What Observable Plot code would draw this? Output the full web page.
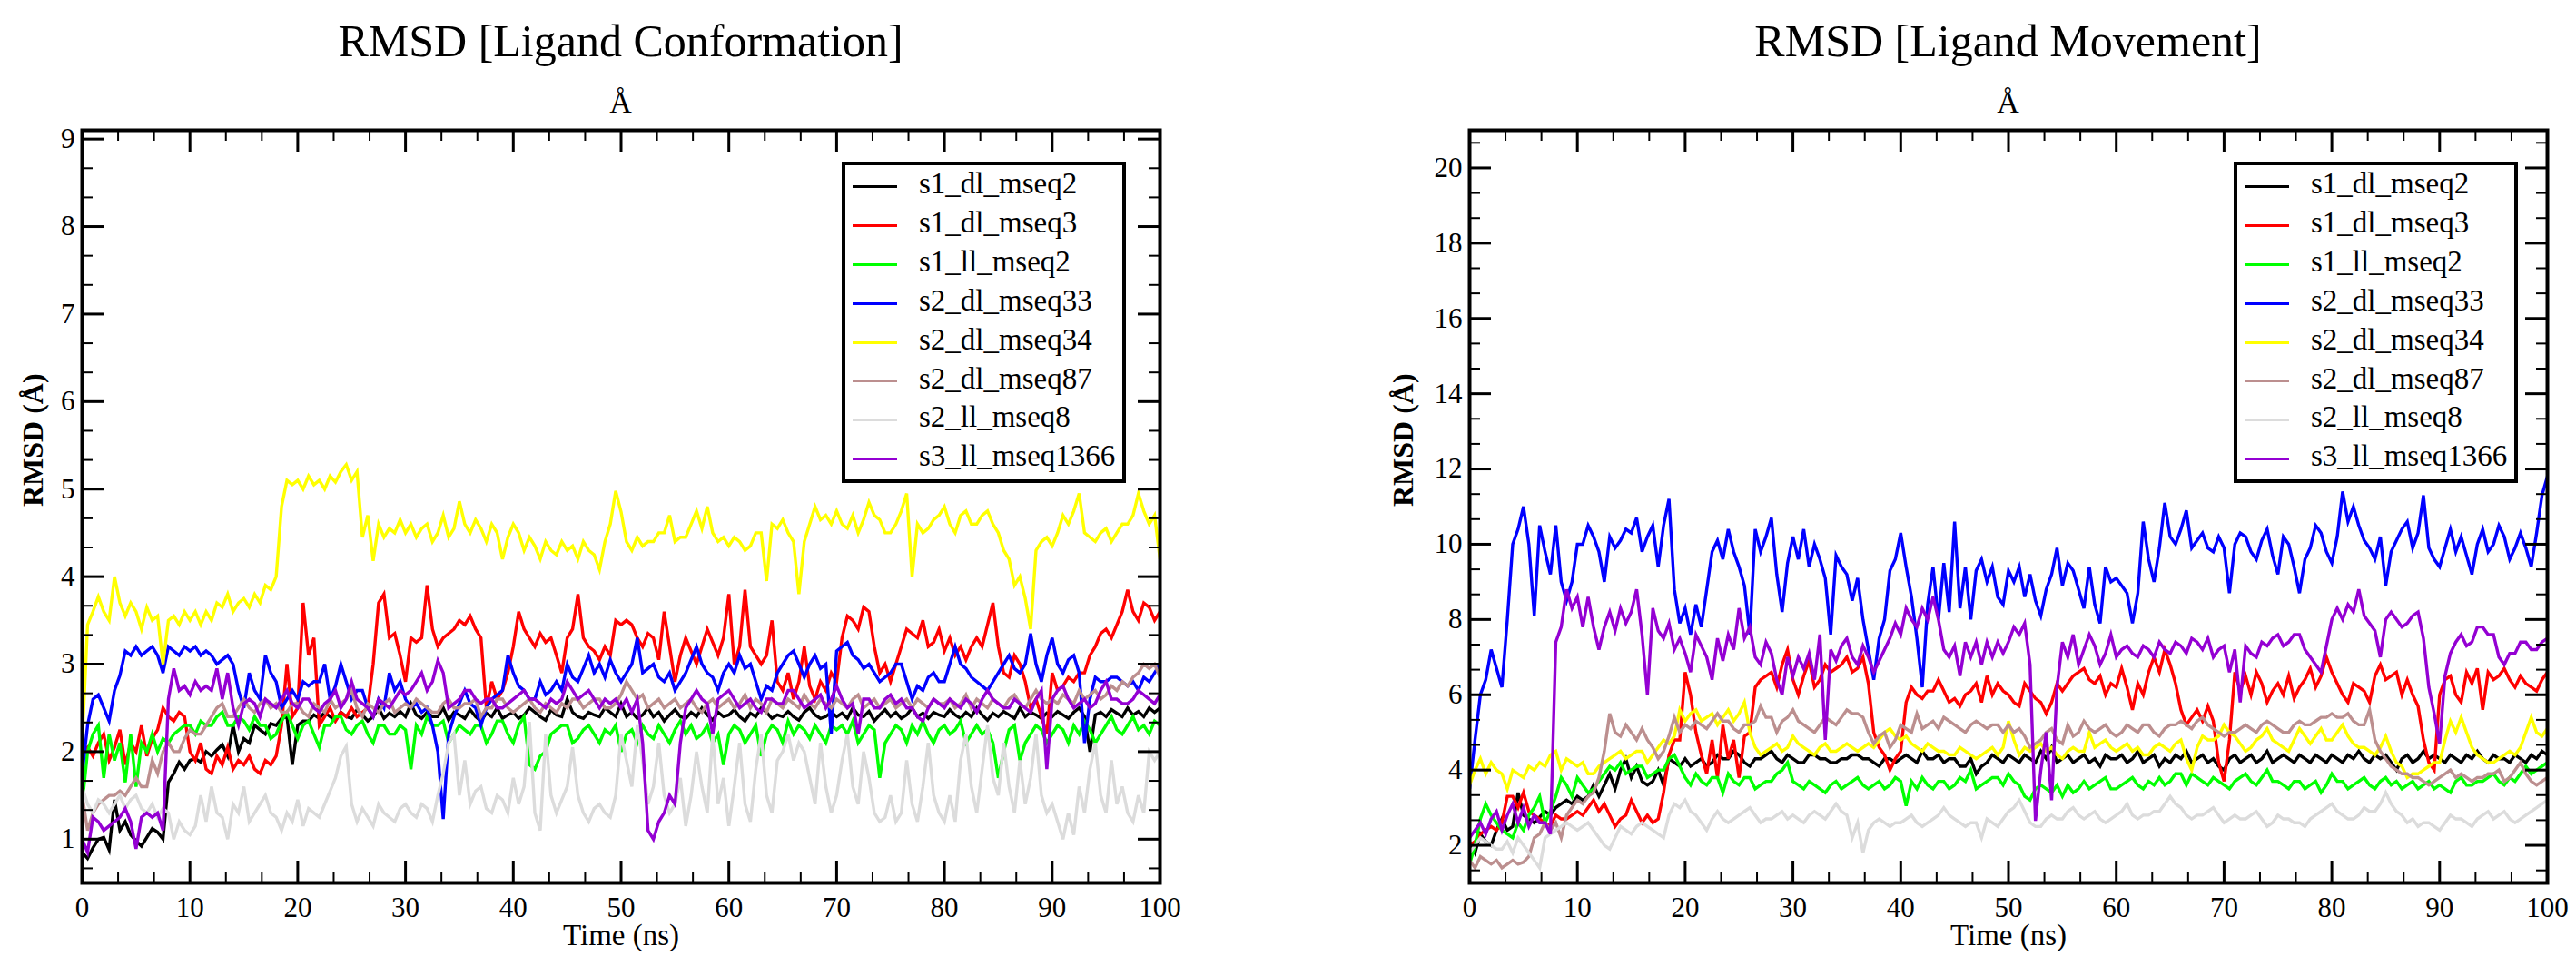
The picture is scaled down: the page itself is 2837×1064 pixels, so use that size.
<!DOCTYPE html>
<html>
<head>
<meta charset="utf-8">
<script src="https://cdn.jsdelivr.net/npm/d3@7"></script>
<script src="https://cdn.jsdelivr.net/npm/@observablehq/plot@0.6"></script>
<style>
  body { margin: 0; background: #fff; width: 2837px; height: 1064px; position: relative; overflow: hidden; font-family: "Liberation Serif", "Times New Roman", serif; color: #000; }
  .panel { position: absolute; top: 0; height: 1064px; }
  .chart { position: absolute; top: 130px; left: 0; }
  .title { position: absolute; top: 20px; font-size: 50px; line-height: 50px; text-align: center; white-space: nowrap; }
  .subtitle { position: absolute; top: 96px; font-size: 34px; line-height: 34px; text-align: center; }
  .legend { position: absolute; top: 178px; width: 313px; height: 354px; box-sizing: border-box; border: 4px solid #000; background: #fff; }
  .legend .row { position: absolute; left: 8px; height: 42px; line-height: 42px; font-size: 33px; white-space: nowrap; }
  .legend .swatch { display: inline-block; width: 49px; height: 3px; vertical-align: middle; margin-right: 24px; }
</style>
</head>
<body>
<div class="panel" id="panel1" style="left:0px;width:1418px">
  <div class="title" style="left:90px;width:1187px">RMSD [Ligand Conformation]</div>
  <div class="subtitle" style="left:90px;width:1187px">Å</div>
  <div class="chart" id="chart1"></div>
  <div class="legend" id="legend1" style="left:927px"></div>
</div>
<div class="panel" id="panel2" style="left:1418px;width:1419px">
  <div class="title" style="left:200px;width:1187px">RMSD [Ligand Movement]</div>
  <div class="subtitle" style="left:200px;width:1187px">Å</div>
  <div class="chart" id="chart2"></div>
  <div class="legend" id="legend2" style="left:1042px"></div>
</div>
<script>
// sets, in xmgrace drawing order (violet is drawn last, on top)
const setNames = ["s1_dl_mseq2", "s1_dl_mseq3", "s1_ll_mseq2", "s2_dl_mseq33", "s2_dl_mseq34", "s2_dl_mseq87", "s2_ll_mseq8", "s3_ll_mseq1366"]
const setColors = ["#000000", "#ff0000", "#00ff00", "#0000ff", "#ffff00", "#bc8f8f", "#dcdcdc", "#9400d3"]

const serif = '"Liberation Serif", "Times New Roman", serif'

// every series runs 0 .. 100 ns, one value every 0.5 ns
const timeEnd = 100

// ---------- RMSD [Ligand Conformation] ----------
const conf_s1_dl_mseq2 = [
  0.85,0.78,0.9,1.0,1.02,0.88,1.45,1.1,1.2,1.05,0.98,0.92,1.02,1.12,1.08,1.0,1.65,1.75,1.88,1.8,
  1.9,1.92,1.88,2.0,1.95,2.02,2.08,1.95,2.3,2.0,2.15,2.1,2.3,2.25,2.2,2.32,2.3,2.38,2.4,1.85,
  2.3,2.35,2.35,2.42,2.38,2.45,2.4,2.36,2.45,2.4,2.38,2.48,2.42,2.35,2.4,2.5,2.38,2.44,2.4,2.46,
  2.4,2.55,2.42,2.38,2.45,2.4,2.4,2.5,2.36,2.45,2.42,2.38,2.48,2.4,2.35,2.44,2.4,2.5,2.38,2.42,
  2.45,2.38,2.42,2.5,2.45,2.4,2.36,2.48,2.42,2.4,2.6,2.45,2.4,2.38,2.45,2.42,2.4,2.5,2.45,2.4,
  2.55,2.4,2.45,2.38,2.42,2.5,2.4,2.45,2.35,2.42,2.48,2.4,2.38,2.45,2.4,2.5,2.42,2.36,2.45,2.4,
  2.42,2.48,2.4,2.35,2.44,2.4,2.5,2.45,2.38,2.42,2.4,2.46,2.4,2.36,2.45,2.5,2.42,2.38,2.4,2.45,
  2.4,2.44,2.38,2.5,2.42,2.4,2.46,2.35,2.42,2.48,2.4,2.45,2.38,2.42,2.5,2.4,2.44,2.38,2.45,2.42,
  2.4,2.48,2.42,2.38,2.45,2.4,2.5,2.42,2.36,2.44,2.4,2.46,2.42,2.38,2.5,2.4,2.45,2.42,2.38,2.44,
  2.4,2.46,2.42,2.38,2.45,2.5,2.4,2.0,2.42,2.45,2.4,2.48,2.44,2.4,2.5,2.42,2.46,2.4,2.5,2.45,
  2.5]
const conf_s1_dl_mseq3 = [
  2.0,2.05,1.95,2.1,2.2,1.9,2.05,2.25,1.85,2.1,2.0,2.3,1.95,2.15,2.25,2.5,2.4,2.35,2.45,2.4,
  2.0,1.9,2.1,1.8,1.75,1.95,1.85,2.05,1.8,1.9,1.85,1.95,1.8,1.75,1.9,1.85,1.95,2.3,3.0,2.4,
  2.5,3.7,3.1,3.3,2.3,2.4,2.5,2.35,2.45,2.4,2.5,2.4,2.45,2.5,3.0,3.7,3.8,3.3,3.35,3.1,
  2.8,3.3,3.25,3.3,3.9,3.4,3.2,3.3,3.35,3.4,3.5,3.45,3.55,3.4,3.3,2.5,2.8,2.6,2.7,2.9,
  3.2,3.6,3.4,3.3,3.2,3.35,3.25,3.3,3.1,2.9,3.3,3.4,3.8,3.3,3.2,3.15,3.05,3.2,3.1,3.5,
  3.45,3.5,3.45,3.3,3.2,3.35,3.3,3.05,3.6,3.2,2.8,3.1,3.3,3.15,3.0,3.2,3.4,3.25,3.1,3.3,
  3.8,3.0,3.2,3.85,3.2,3.1,3.0,3.1,3.5,2.8,2.7,2.9,2.6,2.8,3.2,2.75,2.6,2.8,2.7,2.9,
  2.8,3.3,3.55,3.5,3.4,3.65,3.6,3.2,2.9,3.0,2.8,3.0,3.2,3.4,3.35,3.3,3.5,3.2,3.25,3.4,
  3.15,3.3,3.1,3.2,3.05,3.2,3.3,3.2,3.45,3.7,3.2,2.9,2.85,3.1,3.0,2.8,2.5,2.6,2.4,2.2,
  2.9,2.7,2.75,2.85,2.8,2.9,2.9,3.1,3.2,3.35,3.4,3.3,3.45,3.6,3.85,3.6,3.5,3.7,3.65,3.5,
  3.6]
const conf_s1_ll_mseq2 = [
  1.4,2.0,2.2,2.3,1.7,2.2,1.9,2.1,1.65,2.2,1.6,2.1,2.0,2.2,2.0,2.15,2.1,2.2,2.25,2.3,
  2.3,2.2,2.35,2.3,2.3,2.4,2.45,2.3,2.3,2.4,2.35,2.25,2.4,2.3,2.3,2.15,2.2,2.35,2.45,2.3,
  2.15,2.3,2.35,2.2,2.05,2.3,2.3,2.4,2.4,2.25,2.2,2.3,2.35,2.2,2.1,2.3,2.3,2.2,2.2,2.3,
  2.25,1.8,2.3,2.2,2.4,2.3,2.3,2.35,2.1,2.2,2.3,2.25,2.2,2.3,2.3,2.1,2.2,2.35,2.35,2.2,
  2.1,2.3,2.4,1.85,1.8,1.95,2.0,2.2,2.25,2.3,2.3,2.1,2.15,2.25,2.3,2.2,2.1,2.25,2.2,2.3,
  2.0,2.2,2.25,2.1,2.3,2.2,2.15,2.3,2.2,2.1,2.25,2.35,2.2,2.3,2.15,2.2,2.3,2.1,2.2,1.85,
  2.2,2.3,2.25,2.1,2.2,2.3,1.95,2.2,2.3,2.25,2.1,2.35,2.2,2.3,2.25,2.15,2.3,2.2,2.1,2.3,
  2.25,2.3,2.2,2.35,2.1,2.2,2.3,2.25,1.7,2.1,2.2,2.3,2.25,2.1,2.3,2.2,2.35,2.2,2.1,2.25,
  2.3,2.2,2.25,2.35,2.1,2.2,2.3,2.2,2.25,2.1,1.7,2.0,2.25,2.3,1.9,2.1,2.2,2.3,2.25,2.1,
  2.2,2.3,2.25,2.1,2.3,2.2,2.35,2.25,2.1,2.2,2.3,2.4,2.25,2.2,2.3,2.4,2.25,2.3,2.2,2.35,
  2.3]
const conf_s2_dl_mseq33 = [
  1.75,2.3,2.6,2.65,2.5,2.35,2.7,2.87,3.15,3.1,3.2,3.1,3.15,3.2,3.1,2.9,3.2,3.15,3.1,3.2,
  3.15,3.2,3.1,3.15,3.1,3.0,3.05,3.1,3.0,2.7,2.5,2.9,2.7,2.6,3.1,2.9,2.8,2.5,2.6,2.7,
  2.6,2.8,2.75,2.8,2.8,3.0,2.6,2.75,3.0,2.8,2.6,2.7,2.7,2.5,2.4,2.6,2.5,2.9,2.7,2.8,
  2.6,2.5,2.55,2.45,2.5,2.3,2.0,1.23,2.2,2.4,2.55,2.7,2.55,2.5,2.3,2.5,2.6,2.65,2.7,3.1,
  2.9,2.75,2.7,2.6,2.6,2.8,2.65,2.7,2.8,2.7,3.0,2.85,2.8,2.95,3.1,2.9,3.0,2.85,3.05,2.9,
  2.8,2.9,3.0,3.3,2.9,2.95,3.0,2.85,2.8,2.9,2.7,2.8,2.9,3.05,3.2,3.0,2.9,2.85,2.7,2.9,
  3.0,2.9,3.1,2.95,3.0,2.8,2.6,2.75,2.7,2.9,3.0,3.1,3.15,3.0,2.85,3.0,3.1,2.95,3.0,2.2,
  3.15,3.2,3.25,3.1,3.05,2.95,3.0,2.9,2.8,2.85,2.9,3.0,3.0,2.8,2.6,2.75,2.7,2.85,2.9,2.8,
  2.8,3.0,3.2,3.0,2.95,2.85,2.8,2.75,2.7,2.8,2.9,3.0,3.1,2.95,2.9,3.0,3.35,3.0,2.8,3.1,
  3.3,3.0,2.9,3.05,3.1,2.9,2.1,2.6,2.85,2.8,2.8,2.85,2.85,2.8,2.75,2.8,2.7,2.85,2.8,2.9,
  3.0]
const conf_s2_dl_mseq34 = [
  2.1,3.45,3.6,3.77,3.6,3.5,4.0,3.7,3.55,3.7,3.6,3.4,3.65,3.5,3.55,3.0,3.5,3.55,3.45,3.6,
  3.5,3.6,3.45,3.6,3.5,3.7,3.65,3.8,3.6,3.7,3.75,3.65,3.8,3.7,3.9,3.85,4.0,4.8,5.1,5.05,
  5.1,5.0,5.15,5.05,5.1,5.0,5.15,5.08,5.2,5.28,5.1,5.2,4.45,4.7,4.18,4.6,4.45,4.55,4.5,4.65,
  4.5,4.6,4.45,4.55,4.6,4.4,4.5,4.7,4.45,4.55,4.86,4.6,4.5,4.65,4.55,4.4,4.6,4.5,4.2,4.45,
  4.6,4.5,4.3,4.45,4.35,4.2,4.4,4.3,4.25,4.4,4.3,4.35,4.2,4.4,4.3,4.25,4.08,4.4,4.6,4.98,
  4.74,4.4,4.3,4.45,4.35,4.4,4.4,4.5,4.5,4.7,4.4,4.45,4.45,4.6,4.75,4.55,4.8,4.5,4.4,4.45,
  4.35,4.45,4.4,4.3,4.35,4.5,4.5,3.95,4.6,4.55,4.65,4.5,4.4,3.8,4.4,4.6,4.8,4.65,4.7,4.6,
  4.75,4.6,4.55,4.7,4.5,4.65,4.85,4.7,4.65,4.5,4.5,4.6,4.75,4.95,4.0,4.6,4.5,4.55,4.65,4.7,
  4.8,4.6,4.5,4.7,4.75,4.6,4.6,4.7,4.75,4.6,4.5,4.3,4.2,3.9,4.0,3.75,3.4,4.3,4.4,4.45,
  4.35,4.5,4.7,4.6,4.75,4.95,4.5,4.45,4.4,4.5,4.55,4.4,4.5,4.6,4.6,4.7,4.95,4.75,4.6,4.7,
  4.2]
const conf_s2_dl_mseq87 = [
  1.5,1.1,1.3,1.4,1.45,1.5,1.5,1.55,1.5,1.6,1.7,1.6,1.6,1.9,1.75,2.0,2.1,2.0,2.0,2.15,
  2.25,2.2,2.2,2.3,2.4,2.5,2.55,2.4,2.4,2.5,2.6,2.5,2.45,2.55,2.6,2.5,2.55,2.45,2.45,2.55,
  2.55,2.45,2.4,2.55,2.5,2.45,2.6,2.5,2.55,2.6,2.7,2.5,2.4,2.55,2.5,2.45,2.55,2.6,2.45,2.5,
  2.55,2.5,2.6,2.55,2.5,2.45,2.45,2.55,2.6,2.5,2.5,2.55,2.55,2.6,2.4,2.5,2.5,2.6,2.6,2.5,
  2.45,2.5,2.55,2.6,2.5,2.45,2.55,2.5,2.45,2.55,2.5,2.6,2.6,2.5,2.55,2.6,2.6,2.5,2.5,2.55,
  2.65,2.8,2.7,2.6,2.65,2.5,2.55,2.6,2.5,2.55,2.6,2.5,2.55,2.6,2.5,2.45,2.55,2.6,2.5,2.55,
  2.6,2.5,2.55,2.65,2.5,2.6,2.55,2.45,2.6,2.55,2.5,2.6,2.55,2.5,2.65,2.55,2.5,2.6,2.55,2.5,
  2.6,2.55,2.5,2.6,2.65,2.5,2.55,2.6,2.5,2.55,2.6,2.5,2.55,2.6,2.5,2.6,2.55,2.5,2.6,2.55,
  2.55,2.6,2.5,2.55,2.65,2.5,2.6,2.55,2.5,2.6,2.55,2.5,2.6,2.65,2.55,2.5,2.6,2.7,2.6,2.55,
  2.6,2.55,2.65,2.6,2.55,2.7,2.6,2.65,2.7,2.6,2.65,2.75,2.7,2.8,2.75,2.85,2.9,3.0,2.95,3.0,
  2.85]
const conf_s2_ll_mseq8 = [
  1.6,1.4,1.3,1.45,1.4,1.3,1.4,1.5,1.35,1.45,1.5,1.35,1.3,1.4,1.25,1.35,1.3,1.0,1.2,1.1,
  1.05,1.15,1.5,1.2,1.6,1.3,1.25,1.0,1.4,1.3,1.6,1.2,1.3,1.4,1.5,1.3,1.25,1.1,1.3,1.2,
  1.45,1.15,1.35,1.3,1.25,1.4,1.55,1.7,1.95,2.06,1.4,1.2,1.35,1.25,1.15,1.4,1.3,1.25,1.2,1.35,
  1.4,1.3,1.25,1.4,1.35,1.2,1.5,1.75,2.1,2.2,1.5,1.9,1.4,1.55,1.6,1.35,1.3,1.5,1.45,1.3,
  1.7,1.4,1.6,2.34,1.3,1.1,2.2,1.5,1.3,1.45,1.6,2.05,1.5,1.3,1.2,1.35,1.4,1.3,1.25,1.5,
  2.2,1.9,1.6,2.3,1.9,1.4,1.6,2.1,1.5,1.3,1.4,1.7,1.15,1.5,2.0,1.6,1.3,2.2,1.4,1.7,
  1.15,1.6,2.1,1.4,1.2,1.8,2.2,1.5,1.3,1.9,2.0,2.2,1.9,2.1,2.0,1.7,1.4,2.1,1.6,1.3,
  1.5,1.9,2.2,1.6,1.4,2.0,1.7,1.3,1.2,1.25,1.5,1.2,1.3,1.9,1.4,1.2,1.6,2.1,1.5,1.3,
  1.2,1.5,1.2,1.9,2.2,1.6,1.3,1.8,2.3,1.7,1.5,2.1,1.6,1.3,1.9,1.4,1.7,2.2,1.5,1.3,
  1.4,1.2,1.0,1.3,1.05,1.6,1.3,1.8,2.1,1.5,1.3,1.9,1.4,1.6,1.3,1.2,1.5,1.3,2.0,1.9,
  2.0]
const conf_s3_ll_mseq1366 = [
  1.0,0.85,1.25,1.2,1.1,1.15,1.2,1.25,1.35,1.2,0.89,1.25,1.3,1.25,1.3,1.1,2.6,2.95,2.7,2.75,
  2.65,2.8,2.7,2.75,2.7,2.95,2.6,2.9,2.5,2.3,2.55,2.6,2.55,2.4,2.6,2.55,2.5,2.6,2.7,2.55,
  2.5,2.6,2.6,2.5,2.45,2.55,2.6,2.7,2.5,2.6,2.8,2.6,2.55,2.5,2.4,2.6,2.55,2.5,2.6,2.7,
  2.65,2.7,2.8,2.9,2.7,2.8,3.04,2.9,2.5,2.55,2.6,2.7,2.7,2.6,2.55,2.6,2.6,2.5,2.5,2.55,
  2.6,2.65,2.7,2.6,2.6,2.55,2.5,2.6,2.55,2.6,2.8,2.7,2.6,2.65,2.7,2.6,2.5,2.6,2.55,2.6,
  2.5,2.6,2.45,2.6,2.1,1.1,1.0,1.2,1.3,1.5,1.4,2.1,2.5,2.6,2.7,2.6,2.55,2.2,2.6,2.65,
  2.7,2.6,2.5,2.55,2.6,2.5,2.45,2.6,2.6,2.55,2.55,2.7,2.7,2.6,2.5,2.55,2.6,2.65,2.5,2.6,
  2.75,2.6,2.5,2.55,2.2,2.6,2.6,2.5,2.5,2.6,2.65,2.55,2.6,2.5,2.5,2.4,2.35,2.5,2.6,2.55,
  2.5,2.6,2.55,2.5,2.6,2.55,2.45,2.6,2.7,2.6,2.55,2.5,2.5,2.6,2.55,2.5,2.45,2.6,2.7,1.8,
  2.6,2.7,2.75,2.6,2.5,2.55,2.6,2.5,2.55,2.7,2.8,2.6,2.6,2.55,2.55,2.6,2.7,2.65,2.6,2.55,
  2.65]

// ---------- RMSD [Ligand Movement] ----------
const move_s1_dl_mseq2 = [
  2.1,1.8,2.3,2.1,2.0,2.4,2.7,2.4,2.5,3.4,2.8,2.7,2.6,2.75,2.9,2.8,3.0,3.1,3.2,3.1,
  3.3,3.2,3.3,3.6,3.3,3.6,3.9,3.5,4.0,4.3,3.8,4.1,3.7,3.6,3.7,4.0,3.6,4.3,4.2,4.1,
  4.3,4.1,4.2,4.3,4.1,4.2,4.4,4.3,4.3,4.5,4.4,4.2,4.1,4.3,4.3,4.4,4.5,4.3,4.2,4.4,
  4.3,4.2,4.2,4.4,4.4,4.3,4.3,4.2,4.2,4.3,4.3,4.4,4.4,4.3,4.3,4.2,4.1,4.3,4.3,4.2,
  4.3,4.4,4.3,4.2,4.5,4.3,4.3,4.4,4.2,4.3,4.3,4.1,4.1,4.3,3.9,4.1,4.2,4.4,4.3,4.2,
  4.4,4.3,4.2,4.4,4.3,4.2,4.5,4.3,4.6,4.2,4.3,4.4,4.2,4.3,4.4,4.2,4.3,4.1,4.4,4.3,
  4.3,4.4,4.2,4.3,4.5,4.2,4.3,4.4,4.1,4.3,4.2,4.4,4.3,4.5,4.2,4.3,4.4,4.2,4.3,4.1,
  4.0,4.3,4.4,4.2,4.3,4.4,4.2,4.3,4.5,4.2,4.3,4.4,4.3,4.2,4.4,4.3,4.2,4.4,4.3,4.2,
  4.4,4.3,4.2,4.4,4.3,4.5,4.3,4.2,4.4,4.3,4.4,4.2,4.0,4.3,4.4,4.2,4.3,4.5,4.3,4.4,
  4.3,4.2,4.4,4.3,4.2,4.4,4.3,4.5,4.3,4.2,4.4,4.3,4.3,4.2,4.4,4.3,4.2,4.4,4.3,4.5,
  4.4]
const move_s1_dl_mseq3 = [
  2.0,2.1,2.3,2.4,2.5,2.4,2.6,3.3,3.3,3.0,3.4,2.9,2.8,2.7,2.6,2.5,2.8,2.7,2.7,2.8,
  2.9,2.8,3.0,3.2,2.9,3.1,2.8,2.5,2.7,2.8,3.2,2.9,2.6,2.8,2.6,2.7,3.4,4.4,4.8,4.8,
  6.6,6.0,5.0,4.4,3.9,4.8,3.8,5.2,4.3,4.8,3.8,4.9,5.0,6.2,6.4,6.5,6.6,6.2,6.8,7.2,
  6.4,6.0,6.5,6.9,6.2,6.4,6.8,6.6,6.7,6.8,7.0,6.6,6.7,7.0,6.3,5.0,4.6,4.4,4.0,4.3,
  4.5,5.8,6.2,6.0,5.9,6.1,6.1,6.4,6.1,5.8,5.9,5.7,6.0,6.1,6.3,5.8,6.5,6.0,6.3,6.1,
  6.0,5.8,5.7,6.3,6.1,5.9,5.8,5.5,5.8,6.3,6.1,6.3,6.5,6.6,6.7,6.4,6.3,6.5,6.0,6.3,
  6.2,6.7,6.2,5.6,6.3,6.0,6.6,7.0,6.6,7.2,6.8,6.3,5.6,5.2,5.4,5.6,5.3,5.7,5.3,4.2,
  3.7,4.8,6.6,6.1,6.5,6.0,6.6,6.3,5.8,6.1,6.3,6.0,6.5,5.9,6.2,6.4,6.7,6.2,6.5,7.0,
  6.6,6.3,6.0,5.8,6.3,6.2,6.1,5.8,6.5,6.8,6.4,6.5,6.6,6.0,6.4,6.0,5.7,4.8,4.2,4.0,
  6.0,6.4,6.5,6.0,5.8,6.6,6.3,6.7,5.6,6.6,6.4,6.5,6.7,6.4,6.2,6.5,6.3,6.2,6.1,6.4,
  6.6]
const move_s1_ll_mseq2 = [
  1.5,2.0,2.7,3.1,2.8,2.6,2.4,2.3,2.2,2.6,2.4,2.8,3.0,3.3,2.6,2.9,3.3,3.8,3.6,3.3,
  3.8,3.6,3.4,3.5,3.7,3.9,4.1,4.0,4.2,3.9,4.0,4.1,4.1,3.8,3.9,4.0,4.0,4.3,4.4,4.1,
  3.8,3.6,3.9,3.7,3.6,3.8,3.8,3.4,3.9,3.7,3.6,3.8,3.8,3.5,3.6,3.7,3.7,3.9,4.0,4.2,
  3.7,3.6,3.5,3.7,3.6,3.5,3.4,3.6,3.7,3.5,3.6,3.7,3.8,3.6,3.5,3.6,3.7,3.5,3.6,3.8,
  3.7,3.05,3.7,3.5,3.8,3.6,3.5,3.7,3.7,3.5,3.6,3.8,3.7,4.0,3.5,3.6,3.7,3.8,3.8,3.6,
  3.9,3.7,3.6,3.3,3.2,3.5,3.6,3.5,3.4,3.6,3.3,3.6,3.4,3.5,3.7,3.5,3.6,3.7,3.8,3.5,
  3.5,3.6,3.7,3.8,3.6,3.5,3.7,3.6,3.8,3.6,3.7,3.9,3.9,3.6,3.9,3.8,3.7,3.6,3.8,3.7,
  3.6,3.5,3.7,3.8,3.9,3.7,3.6,3.8,4.0,3.7,3.7,3.6,3.5,3.7,3.7,3.5,3.6,3.7,3.4,3.6,
  3.9,3.7,3.7,3.5,3.6,3.7,3.8,3.6,3.5,3.7,3.8,3.6,3.7,3.5,3.6,3.7,3.5,3.6,3.7,3.5,
  3.6,3.5,3.4,3.7,3.8,3.6,3.6,3.7,3.7,3.8,3.9,3.7,3.6,3.8,3.7,3.9,4.1,3.9,4.0,4.1,
  4.2]
const move_s2_dl_mseq33 = [
  3.5,4.8,6.0,6.4,7.2,6.7,6.2,8.0,10.0,10.4,11.0,10.0,8.1,10.5,9.8,9.2,10.5,9.0,8.5,9.0,
  10.0,10.0,10.5,10.2,9.8,9.0,10.2,9.9,10.1,10.4,10.3,10.7,9.8,10.2,10.5,9.4,10.5,11.2,8.8,7.9,
  8.3,7.6,8.4,7.8,8.8,9.8,10.1,9.6,10.4,9.8,9.4,8.9,7.6,10.4,9.8,10.2,10.7,9.2,8.2,9.5,
  10.2,9.6,10.4,9.4,10.0,9.6,9.1,7.6,9.7,9.4,9.2,8.5,9.1,8.0,7.2,6.4,7.5,8.0,9.3,9.6,
  10.3,9.4,8.6,7.5,6.2,8.4,9.4,8.0,9.5,8.2,10.6,8.3,9.4,8.0,9.3,9.6,9.0,9.4,8.6,8.4,
  9.3,9.0,9.4,8.6,9.2,8.5,8.1,8.8,9.2,9.9,8.9,9.5,9.3,8.8,8.3,9.4,8.4,7.9,9.4,9.0,
  9.1,8.9,8.7,7.9,8.7,10.6,9.6,9.0,9.9,11.1,10.2,10.0,10.4,10.9,9.9,10.1,10.3,9.9,9.8,10.2,
  9.9,8.7,10.0,10.3,10.2,9.8,9.6,10.1,10.4,9.7,9.2,10.2,10.0,9.4,8.7,9.6,9.9,10.5,10.3,9.8,
  9.5,10.2,11.4,10.6,11.0,10.5,10.1,9.9,9.6,10.2,8.9,9.8,10.1,10.4,10.6,9.9,10.3,11.3,9.9,9.6,
  9.4,9.9,10.4,9.8,10.2,9.7,9.2,10.0,10.4,9.8,10.0,10.5,10.2,9.6,9.9,10.3,9.9,9.4,10.3,11.3,
  11.8]
const move_s2_dl_mseq34 = [
  3.6,4.0,4.3,3.9,4.2,4.0,3.9,3.5,4.0,3.9,3.8,4.1,4.0,4.2,4.1,4.4,4.5,4.0,4.3,4.2,
  4.1,4.2,3.9,3.9,4.1,4.2,4.3,4.4,4.5,4.3,4.4,4.5,4.5,4.2,4.4,4.6,4.8,4.7,4.9,5.6,
  5.3,5.5,5.6,5.3,5.4,5.5,5.2,5.4,5.6,5.3,5.5,5.8,5.0,4.6,4.4,4.5,4.6,4.7,4.5,4.6,
  4.9,4.7,4.6,4.5,4.4,4.6,4.7,4.5,4.5,4.6,4.7,4.6,4.5,4.6,4.7,4.6,4.8,5.0,5.1,4.9,
  4.8,4.9,4.7,4.6,4.5,4.7,4.6,4.5,4.5,4.4,4.4,4.6,4.5,4.4,4.3,4.4,4.5,4.6,4.4,4.6,
  5.3,4.8,4.4,4.6,4.5,4.6,4.7,4.5,4.6,4.4,4.3,4.5,4.6,4.5,4.5,5.0,4.6,4.7,4.8,4.6,
  4.5,4.6,4.7,4.5,4.6,4.4,4.4,4.6,4.7,4.6,4.5,4.7,4.8,4.3,4.0,4.6,4.9,4.8,4.8,4.9,
  5.2,5.0,4.9,4.7,4.5,4.6,4.8,4.9,5.1,4.8,4.7,4.6,4.5,4.8,5.1,4.9,4.7,4.9,5.1,4.8,
  4.8,5.0,5.2,4.9,4.7,4.6,4.6,4.5,4.4,4.6,4.9,4.5,4.2,4.1,3.8,3.9,3.9,4.0,4.1,4.2,
  4.2,4.8,5.3,5.0,5.4,5.0,4.6,4.4,4.3,4.2,4.2,4.3,4.4,4.5,4.4,4.6,5.0,5.4,5.0,4.9,
  5.1]
const move_s2_dl_mseq87 = [
  1.6,1.4,1.7,1.6,1.5,1.6,1.4,1.5,1.6,1.5,1.55,1.7,2.2,2.3,2.6,2.4,2.6,2.2,2.8,3.0,
  3.2,3.1,3.3,3.4,3.8,4.5,5.5,5.0,4.9,5.2,5.0,4.8,5.1,4.8,4.6,4.3,4.5,4.9,5.4,5.0,
  5.2,5.1,5.3,5.2,5.1,5.3,5.5,5.3,5.3,5.1,5.0,5.2,5.2,5.3,5.7,5.4,5.4,5.0,5.3,5.4,
  5.6,5.3,5.2,5.1,5.0,5.2,5.4,5.3,5.2,5.4,5.6,5.5,5.5,5.4,5.0,4.7,4.9,5.0,4.6,4.8,
  5.2,5.1,5.0,5.5,5.1,5.2,5.3,5.1,5.4,5.3,5.2,5.1,5.0,5.2,5.3,5.2,5.1,5.2,5.2,5.0,
  5.2,5.0,5.1,4.9,4.6,4.7,4.8,5.0,5.1,4.8,4.7,5.2,4.9,5.0,5.3,5.1,5.0,5.1,5.2,5.0,
  4.9,5.0,5.2,5.1,5.0,5.2,5.2,5.0,4.9,5.1,5.2,5.2,5.3,5.2,5.1,5.3,5.4,5.2,5.1,5.0,
  4.9,5.0,5.0,5.1,5.2,5.1,5.0,5.2,5.3,5.2,5.1,5.0,5.0,5.2,5.3,5.2,5.2,5.3,5.4,5.4,
  5.5,5.4,5.4,5.5,5.3,5.2,5.2,5.6,4.8,4.5,4.3,4.1,4.0,3.9,3.9,3.8,3.8,3.7,3.6,3.7,
  3.8,3.9,4.0,3.8,3.9,3.8,3.7,3.8,3.8,3.9,3.9,4.0,3.7,3.8,4.0,4.2,3.9,3.7,3.6,3.7,
  3.8]
const move_s2_ll_mseq8 = [
  1.8,2.0,2.2,2.1,2.0,1.9,1.9,2.1,1.8,2.2,2.0,1.8,1.6,1.4,2.2,2.3,2.4,2.5,2.6,2.5,
  2.4,2.5,2.6,2.4,2.2,2.0,1.9,2.2,2.5,2.4,2.3,2.5,2.6,2.5,2.4,2.3,2.2,2.8,3.1,3.0,
  3.2,2.9,2.8,2.6,2.4,2.7,2.9,2.7,2.6,2.7,2.8,2.9,3.0,2.8,2.6,2.7,2.7,2.8,2.9,2.7,
  2.8,2.7,2.6,2.8,2.9,2.8,2.7,2.9,3.1,2.9,2.8,2.2,2.6,1.8,2.4,2.6,2.7,2.6,2.5,2.6,
  2.6,2.7,2.8,2.6,2.5,2.6,2.7,2.8,3.0,2.8,2.7,2.6,2.5,2.6,2.6,2.2,2.7,2.6,2.5,2.7,
  2.9,3.0,3.2,2.9,2.6,2.5,2.5,2.7,2.8,2.7,2.7,2.9,3.0,2.8,2.7,2.8,2.9,2.7,2.6,2.7,
  2.8,2.9,3.1,2.8,2.7,2.8,2.8,2.9,2.9,3.1,3.3,3.1,3.0,2.8,2.7,2.8,2.8,2.9,3.0,2.8,
  2.6,2.7,2.8,2.7,2.7,2.8,2.9,2.7,2.5,2.6,2.8,2.7,2.7,2.6,2.6,2.5,2.7,2.8,2.9,3.0,
  3.1,2.9,2.8,2.7,2.7,2.8,3.0,2.9,2.9,3.1,3.4,3.1,2.9,2.8,2.6,2.7,2.5,2.6,2.6,2.5,
  2.4,2.6,2.8,2.7,2.7,2.6,2.5,2.7,2.8,2.9,2.7,2.8,2.9,2.7,2.6,2.7,2.8,2.9,3.0,3.1,
  3.2]
const move_s3_ll_mseq1366 = [
  2.2,2.4,2.6,2.3,2.7,2.9,2.4,2.8,3.1,2.6,3.0,2.5,2.8,2.6,2.6,2.3,7.4,7.8,8.8,8.3,
  8.6,7.8,8.6,7.8,7.2,7.8,8.2,7.7,8.3,7.9,8.2,8.8,7.6,6.0,8.3,7.7,7.5,7.9,7.2,7.5,
  7.1,6.6,7.6,7.3,7.0,6.4,7.5,6.9,7.6,7.2,8.3,7.5,7.8,7.0,6.8,7.4,7.1,6.4,6.0,7.0,
  6.5,7.0,6.7,7.1,6.4,7.6,4.8,7.2,6.9,7.3,7.5,7.0,6.8,7.3,7.0,6.6,6.9,7.2,7.5,7.9,
  7.6,8.3,8.0,7.8,8.3,8.0,8.6,8.0,7.2,7.0,7.3,6.5,7.4,7.0,7.4,6.8,7.4,7.0,7.4,7.1,
  7.4,7.8,7.6,7.9,6.8,2.65,4.0,5.0,3.2,6.2,7.4,7.0,7.6,6.8,7.2,7.6,7.3,6.8,7.1,7.6,
  7.0,7.2,7.3,7.1,7.0,7.3,7.2,7.0,7.4,7.2,7.1,7.4,7.3,7.1,7.5,7.4,7.2,7.5,7.0,7.2,
  7.3,6.6,7.2,5.8,7.3,7.1,7.0,7.4,7.3,7.5,7.6,7.3,7.4,7.6,7.6,7.2,7.0,6.8,6.6,7.3,
  8.0,8.3,8.0,8.4,8.2,8.8,8.1,7.9,7.7,7.0,8.0,8.2,8.0,7.8,7.9,8.1,8.2,7.5,6.2,5.5,
  4.7,6.5,7.1,7.4,7.6,7.3,7.4,7.8,7.8,7.6,7.6,7.0,6.8,7.1,7.1,7.4,7.4,7.2,7.2,7.4,
  7.5]

const confSeries = [conf_s1_dl_mseq2, conf_s1_dl_mseq3, conf_s1_ll_mseq2, conf_s2_dl_mseq33,
  conf_s2_dl_mseq34, conf_s2_dl_mseq87, conf_s2_ll_mseq8, conf_s3_ll_mseq1366]
const moveSeries = [move_s1_dl_mseq2, move_s1_dl_mseq3, move_s1_ll_mseq2, move_s2_dl_mseq33,
  move_s2_dl_mseq34, move_s2_dl_mseq87, move_s2_ll_mseq8, move_s3_ll_mseq1366]

// axis tick values
const xMajor = [0, 10, 20, 30, 40, 50, 60, 70, 80, 90, 100]
const confYMajor = [1, 2, 3, 4, 5, 6, 7, 8, 9]
const moveYMajor = [2, 4, 6, 8, 10, 12, 14, 16, 18, 20]

// two minor ticks between majors (xmgrace style)
function thirds(major, step, lo, hi) {
  let out = []
  for (let v = major[0] - step; v <= hi; v += step) {
    out.push(v + step / 3, v + 2 * step / 3)
  }
  return out.filter(v => v > lo && v < hi)
}

// long table: one row per point, sets kept in drawing order
function toRows(series) {
  return series.flatMap((values, k) => values.map((v, i) => ({
    time: i * timeEnd / (values.length - 1),
    rmsd: v,
    set: setNames[k]
  })))
}

function rmsdChart({series, yDomain, yMajor, yStep, width, marginLeft, marginRight, yLabelDx}) {
  const height = 932, marginTop = 13, marginBottom = 90
  const plotW = width - marginLeft - marginRight
  const plotH = height - marginTop - marginBottom
  const xMinor = thirds(xMajor, 10, 0, 100)
  const yMinor = thirds(yMajor, yStep, yDomain[0], yDomain[1])
  const big = 24, small = 12

  return Plot.plot({
    width, height, marginTop, marginBottom, marginLeft, marginRight,
    style: {fontFamily: serif, fontSize: '30px', color: '#000', background: 'transparent', overflow: 'visible'},
    x: {domain: [0, 100]},
    y: {domain: yDomain},
    color: {domain: setNames, range: setColors},
    marks: [
      Plot.line(toRows(series), {x: 'time', y: 'rmsd', z: 'set', stroke: 'set', strokeWidth: 3.4,
        strokeLinejoin: 'miter', strokeLinecap: 'butt', strokeMiterlimit: 4, clip: true}),

      // inward ticks on all four sides
      Plot.tickX(xMajor, {x: d => d, insetTop: plotH - big, stroke: '#000', strokeWidth: 3}),
      Plot.tickX(xMajor, {x: d => d, insetBottom: plotH - big, stroke: '#000', strokeWidth: 3}),
      Plot.tickX(xMinor, {x: d => d, insetTop: plotH - small, stroke: '#000', strokeWidth: 2}),
      Plot.tickX(xMinor, {x: d => d, insetBottom: plotH - small, stroke: '#000', strokeWidth: 2}),
      Plot.tickY(yMajor, {y: d => d, insetRight: plotW - big, stroke: '#000', strokeWidth: 3}),
      Plot.tickY(yMajor, {y: d => d, insetLeft: plotW - big, stroke: '#000', strokeWidth: 3}),
      Plot.tickY(yMinor, {y: d => d, insetRight: plotW - small, stroke: '#000', strokeWidth: 2}),
      Plot.tickY(yMinor, {y: d => d, insetLeft: plotW - small, stroke: '#000', strokeWidth: 2}),
      Plot.frame({stroke: '#000', strokeWidth: 4}),

      Plot.axisX({ticks: xMajor, tickSize: 0, tickPadding: 15, label: null, fontSize: 31, fontFamily: serif, fill: '#000'}),
      Plot.axisY({ticks: yMajor, tickSize: 0, tickPadding: 8, label: null, fontSize: 31, fontFamily: serif, fill: '#000'}),
      Plot.text(['Time (ns)'], {frameAnchor: 'bottom', dy: 68, fontSize: 33, fontFamily: serif, fill: '#000'}),
      Plot.text(['RMSD (Å)'], {frameAnchor: 'left', rotate: -90, dx: yLabelDx, fontSize: 32, fontWeight: 'bold', fontFamily: serif, fill: '#000'}),
    ],
  })
}

function fillLegend(id) {
  let box = d3.select(id)
  setNames.forEach((name, i) => {
    let row = box.append('div').attr('class', 'row').style('top', `${i * 42.9 - 1}px`)
    row.append('span').attr('class', 'swatch').style('background', setColors[i])
    row.append('span').text(name)
  })
}

let chart1 = rmsdChart({series: confSeries, yDomain: [0.5, 9.1], yMajor: confYMajor, yStep: 1,
  width: 1418, marginLeft: 90, marginRight: 141, yLabelDx: -54})
d3.select('#chart1').append(() => chart1)

let chart2 = rmsdChart({series: moveSeries, yDomain: [1, 21], yMajor: moveYMajor, yStep: 2,
  width: 1419, marginLeft: 200, marginRight: 32, yLabelDx: -73})
d3.select('#chart2').append(() => chart2)

fillLegend('#legend1')
fillLegend('#legend2')
</script>
</body>
</html>
